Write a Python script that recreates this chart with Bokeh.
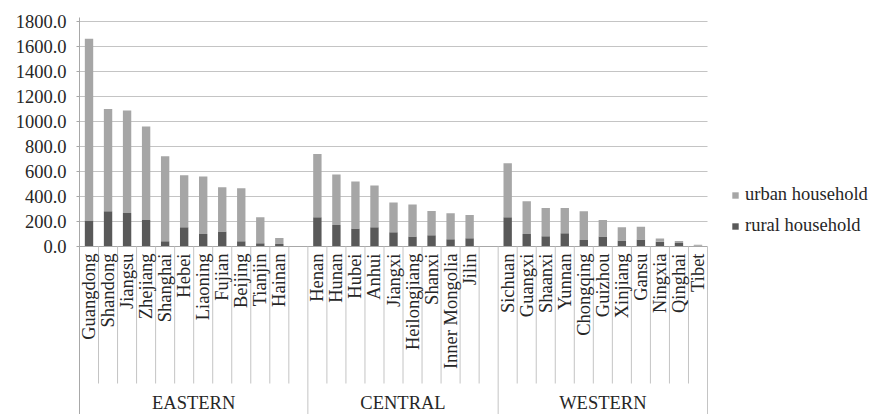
from bokeh.plotting import figure
from bokeh.models import (ColumnDataSource, Range1d, FixedTicker, NumeralTickFormatter,
                          Legend, LegendItem)
from bokeh.core.properties import value
from bokeh.embed import file_html
from bokeh.resources import INLINE

# ---------------- data ----------------
groups = ["EASTERN", "CENTRAL", "WESTERN"]

eastern = ["Guangdong", "Shandong", "Jiangsu", "Zhejiang", "Shanghai", "Hebei",
           "Liaoning", "Fujian", "Beijing", "Tianjin", "Hainan"]
eastern_rural = [208, 283, 269, 213, 43, 155, 101, 120, 43, 27, 20]
eastern_urban = [1454, 818, 819, 747, 680, 416, 459, 355, 424, 208, 48]

central = ["Henan", "Hunan", "Hubei", "Anhui", "Jiangxi", "Heilongjiang",
           "Shanxi", "Inner Mongolia", "Jilin"]
central_rural = [235, 173, 144, 155, 115, 80, 91, 59, 67]
central_urban = [506, 403, 376, 333, 237, 256, 194, 208, 186]

western = ["Sichuan", "Guangxi", "Shaanxi", "Yunnan", "Chongqing", "Guizhou",
           "Xinjiang", "Gansu", "Ningxia", "Qinghai", "Tibet"]
western_rural = [235, 101, 83, 107, 53, 80, 48, 56, 38, 28, 6]
western_urban = [432, 262, 226, 202, 230, 133, 107, 102, 27, 17, 8]

y_ticks = [0, 200, 400, 600, 800, 1000, 1200, 1400, 1600, 1800]

series_names = ["urban household", "rural household"]

# ---------------- layout constants ----------------
W, H = 875, 414
FRAME_LEFT = 79
FRAME_TOP = 17
N_SLOTS = 33
SLOT_PX = 628.0 / N_SLOTS
PX_PER_UNIT = 0.125
AXIS_Y = 246                      # px of value 0
TOP_GRID_Y = 21                   # px of value 1800
Y_END = 1800 + (TOP_GRID_Y - FRAME_TOP) / PX_PER_UNIT
Y_START = -(H - AXIS_Y) / PX_PER_UNIT
X_END = (W - FRAME_LEFT) / SLOT_PX

LABEL_Y = -(253 - AXIS_Y) / PX_PER_UNIT
TICK_END_Y = -(383 - AXIS_Y) / PX_PER_UNIT
GROUP_Y = -(402 - AXIS_Y) / PX_PER_UNIT

FONT = "Liberation Serif"
TXT = "#262626"
URBAN_C = "#a6a6a6"
RURAL_C = "#595959"
LINE_C = "#c4c4c4"
FS = "18.5px"

# ---------------- build slots ----------------
group_lists = [(eastern, eastern_rural, eastern_urban),
               (central, central_rural, central_urban),
               (western, western_rural, western_urban)]

xs, names, rural, urban = [], [], [], []
short_ticks, long_ticks, group_centers = [], [0.0], []
slot = 0
for gi, (cats, r, u) in enumerate(group_lists):
    start = slot
    for c, rv, uv in zip(cats, r, u):
        xs.append(slot + 0.5)
        names.append(c)
        rural.append(rv)
        urban.append(uv)
        slot += 1
        short_ticks.append(float(slot))
    if gi < len(group_lists) - 1:
        slot += 1                 # blank slot closing the group
        long_ticks.append(float(slot))
    else:
        short_ticks.pop()
        long_ticks.append(float(slot))
    group_centers.append((start + slot) / 2.0)

total = [a + b for a, b in zip(rural, urban)]
src = ColumnDataSource(dict(x=xs, name=names, rural=rural, urban=urban, total=total,
                            zero=[0] * len(xs)))

# ---------------- figure ----------------
p = figure(width=W, height=H, output_backend="svg", toolbar_location=None,
           x_range=Range1d(0, X_END), y_range=Range1d(Y_START, Y_END),
           x_axis_location=None, min_border_left=FRAME_LEFT, min_border_right=0,
           min_border_top=FRAME_TOP, min_border_bottom=0)
p.outline_line_color = None
p.xgrid.visible = False
p.ygrid.visible = False
p.background_fill_color = "white"
p.border_fill_color = "white"

# gridlines
grid_y = [t for t in y_ticks if t > 0]
p.segment(x0=[0] * len(grid_y), x1=[N_SLOTS] * len(grid_y), y0=grid_y, y1=grid_y,
          line_color=LINE_C, line_width=1.2)

# bars
bw = 0.44
r_r = p.vbar(x="x", width=bw, bottom="zero", top="rural", source=src,
             fill_color=RURAL_C, line_color=None)
r_u = p.vbar(x="x", width=bw, bottom="rural", top="total", source=src,
             fill_color=URBAN_C, line_color=None)

# category axis line and tick separators
p.segment(x0=[0], x1=[N_SLOTS], y0=[0], y1=[0], line_color="#a8a8a8", line_width=1.2)
p.segment(x0=short_ticks, x1=short_ticks, y0=[0] * len(short_ticks),
          y1=[TICK_END_Y] * len(short_ticks), line_color=LINE_C, line_width=1)
p.segment(x0=long_ticks[1:], x1=long_ticks[1:], y0=[0] * (len(long_ticks) - 1),
          y1=[Y_START] * (len(long_ticks) - 1), line_color=LINE_C, line_width=1)

# category labels (rotated)
p.text(x="x", y=LABEL_Y, text="name", source=src, angle=1.5708,
       text_align="right", text_baseline="middle", text_font=value(FONT),
       text_font_size=FS, text_color=TXT)
# group labels
p.text(x=group_centers, y=[GROUP_Y] * len(groups), text=groups,
       text_align="center", text_baseline="middle", text_font=value(FONT),
       text_font_size=FS, text_color=TXT)

# y axis
ax = p.yaxis[0]
ax.ticker = FixedTicker(ticks=y_ticks)
ax.formatter = NumeralTickFormatter(format="0.0")
ax.major_label_text_font = FONT
ax.major_label_text_font_size = FS
ax.major_label_text_color = TXT
ax.axis_line_color = "#a8a8a8"
ax.major_tick_line_color = "#a8a8a8"
ax.major_tick_out = 3
ax.major_tick_in = 0
ax.minor_tick_line_color = None
ax.major_label_standoff = 10

# legend
legend = Legend(items=[LegendItem(label=series_names[0], renderers=[r_u]),
                       LegendItem(label=series_names[1], renderers=[r_r])],
                location=(652, 178), orientation="vertical",
                glyph_width=8, glyph_height=8, label_height=20, spacing=10,
                label_standoff=6, padding=0, margin=0,
                border_line_color=None, background_fill_alpha=0,
                label_text_font=FONT, label_text_font_size=FS,
                label_text_color=TXT)
p.add_layout(legend)

open("out.html", "w").write(file_html(p, INLINE))
